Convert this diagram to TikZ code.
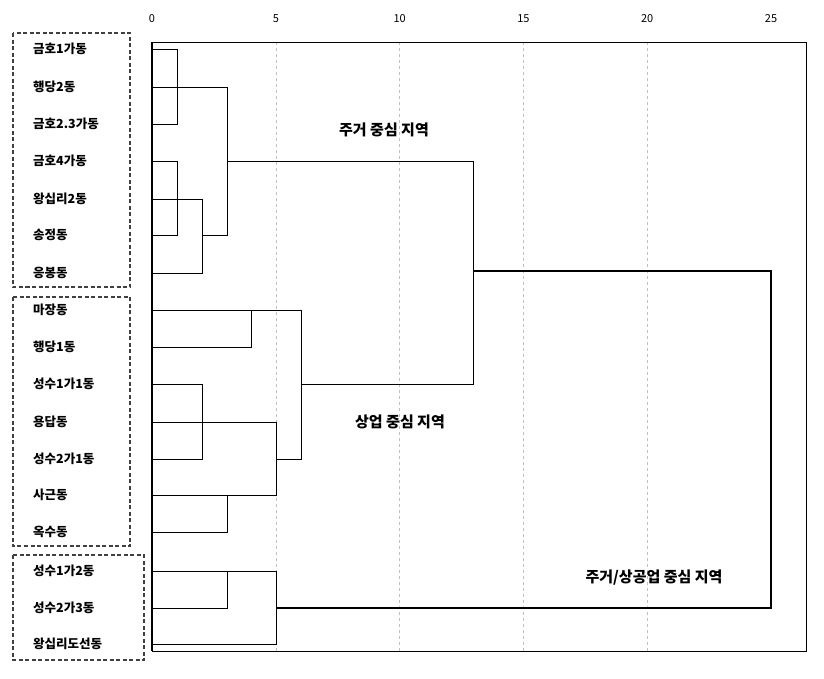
\documentclass[tikz,border=0pt]{standalone}
\usepackage{fontspec}
\setmainfont{Noto Sans CJK KR}
\begin{document}
\begin{tikzpicture}[x=1pt,y=-1pt,
  lab/.style={font=\bfseries\fontsize{12.5}{14}\selectfont,anchor=west,inner sep=0},
  big/.style={font=\bfseries\fontsize{15}{17}\selectfont,inner sep=0},
  tick/.style={font=\fontsize{11}{12}\selectfont,inner sep=0},
  dbox/.style={draw=black!75,dashed,line width=1.2pt,dash pattern=on 4pt off 2.5pt},
  den/.style={line width=1pt},
  grid/.style={draw=black!25,dashed,line width=0.6pt}]
\useasboundingbox (0,0) rectangle (824,678);
% grid
\foreach \v in {5,10,15,20} \draw[grid] ({152+\v*24.76},42) -- ({152+\v*24.76},651);
\foreach \v in {0,5,10,15,20,25} \node[tick] (t\v) at ({152+\v*24.76},19) {\v};
\draw[line width=0.8pt] (152,42) -- (806,42) -- (806,651) -- (152,651);
\draw[line width=1.2pt] (152,42) -- (152,651);
% labels
\foreach \n/\y/\t in {a/49/금호1가동,b/87/행당2동,c/124/금호2.3가동,d/161/금호4가동,e/199/왕십리2동,f/235/송정동,g/273/응봉동,
  h/310/마장동,i/347/행당1동,j/384/성수1가1동,k/422/용답동,l/459/성수2가1동,m/495/사근동,n/532/옥수동,
  o/571/성수1가2동,p/608/성수2가3동,q/644/왕십리도선동}
  \node[lab] (\n) at (33,\y) {\t};
\draw[dbox] (13,33) rectangle (130,287);
\draw[dbox] (13,297) rectangle (130,546);
\draw[dbox] (13,555) rectangle (144,660);
% dendrogram
\draw[den] (152,49) -| (177,124) -- (152,124);
\draw[den] (152,87) -| (227,235) -- (202,235);
\draw[den] (152,161) -| (177,235) -- (152,235);
\draw[den] (152,199) -| (202,273) -- (152,273);
\draw[den] (227,161) -| (473,384) -- (301,384);
\draw[den] (152,347) -| (251,310);
\draw[den] (152,310) -| (301,459) -- (276,459);
\draw[den] (152,384) -| (202,459) -- (152,459);
\draw[den] (152,422) -| (276,495) -- (152,495);
\draw[den] (152,532) -| (227,495);
\draw[den] (152,608) -| (227,571);
\draw[den] (152,571) -| (276,644) -- (152,644);
\draw[den,line width=1.5pt] (276,608) -| (771,271) -- (473,271);
\node[big] (r1) at (384,130) {주거 중심 지역};
\node[big] (r2) at (400,422) {상업 중심 지역};
\node[big] (r3) at (654,578) {주거/상공업 중심 지역};
\end{tikzpicture}
\end{document}
